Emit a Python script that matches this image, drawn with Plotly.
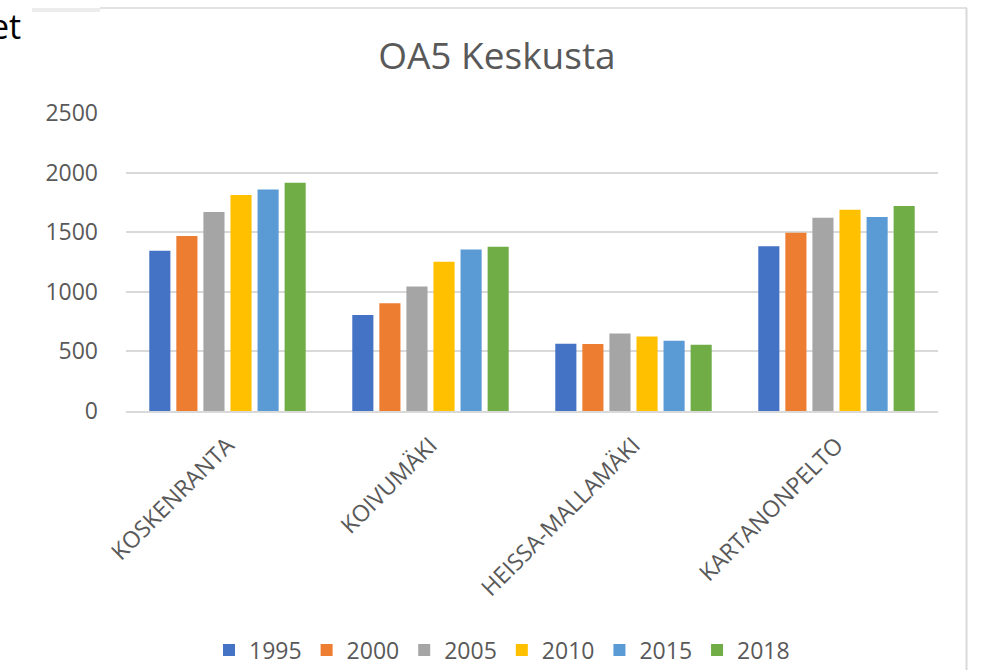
import plotly.graph_objects as go

categories = ["KOSKENRANTA", "KOIVUMÄKI", "HEISSA-MALLAMÄKI", "KARTANONPELTO"]
years = ["1995", "2000", "2005", "2010", "2015", "2018"]
v1995 = [1345, 806, 564, 1383]
v2000 = [1468, 903, 562, 1495]
v2005 = [1670, 1045, 650, 1621]
v2010 = [1812, 1253, 625, 1689]
v2015 = [1858, 1355, 589, 1628]
v2018 = [1915, 1378, 556, 1720]
series = [v1995, v2000, v2005, v2010, v2015, v2018]
colors = ["#4472C4", "#ED7D31", "#A5A5A5", "#FFC000", "#5B9BD5", "#70AD47"]
y_ticks = [0, 500, 1000, 1500, 2000, 2500]

W, H = 982, 670
L, R, T, B = 126, 938, 113, 411
PW, PH = R - L, B - T

def px(x):
    return (x - L) / PW

def py(y):
    return (B - y) / PH

FONT = "Open Sans"
GRAY = "#595959"

fig = go.Figure()
for name, vals, col in zip(years, series, colors):
    fig.add_trace(go.Bar(name=name, x=categories, y=vals, marker=dict(color=col, line=dict(width=0))))

fig.update_layout(
    width=W, height=H,
    margin=dict(l=L, r=W - R, t=T, b=H - B, autoexpand=False),
    paper_bgcolor="white", plot_bgcolor="white",
    barmode="group", bargap=0.2, bargroupgap=0.22,
    font=dict(family=FONT, color=GRAY),
    title=dict(text="OA5 Keskusta", x=0.506, xref="container", xanchor="center",
               y=1 - 56 / H, yref="container", yanchor="middle",
               font=dict(size=37, color=GRAY, family=FONT)),
    showlegend=True,
    legend=dict(orientation="h", x=px(502), xanchor="center", y=py(650), yanchor="middle",
                font=dict(size=23, color=GRAY), itemwidth=30, traceorder="normal"),
    xaxis=dict(tickangle=-45, tickfont=dict(size=23, color=GRAY), showgrid=False,
               showline=True, linecolor="#d9d9d9", linewidth=1.5, ticks="",
               ticklabelstandoff=10, fixedrange=True),
    yaxis=dict(range=[0, 2500], tickvals=y_ticks, tickfont=dict(size=23, color=GRAY),
               showgrid=True, gridcolor="#d9d9d9", gridwidth=1.5, zeroline=False,
               showline=False, ticks="", ticklabelstandoff=27, fixedrange=True),
    shapes=[
        dict(type="line", xref="paper", yref="paper", x0=px(32), x1=px(100), y0=py(10), y1=py(10),
             line=dict(color="#ececec", width=4)),
        dict(type="line", xref="paper", yref="paper", x0=px(100), x1=px(967), y0=py(8), y1=py(8),
             line=dict(color="#d9d9d9", width=1.5)),
        dict(type="line", xref="paper", yref="paper", x0=px(966.5), x1=px(966.5), y0=py(8), y1=py(672),
             line=dict(color="#d9d9d9", width=2)),
    ],
    annotations=[
        dict(text="et", xref="paper", yref="paper", x=px(23), y=py(26), xanchor="right", yanchor="middle",
             showarrow=False, font=dict(size=34, color="#000000", family=FONT)),
    ],
)

fig.write_html("out.html", config={"displayModeBar": False},
               post_script="document.body.style.margin='0';document.body.style.overflow='hidden';")
